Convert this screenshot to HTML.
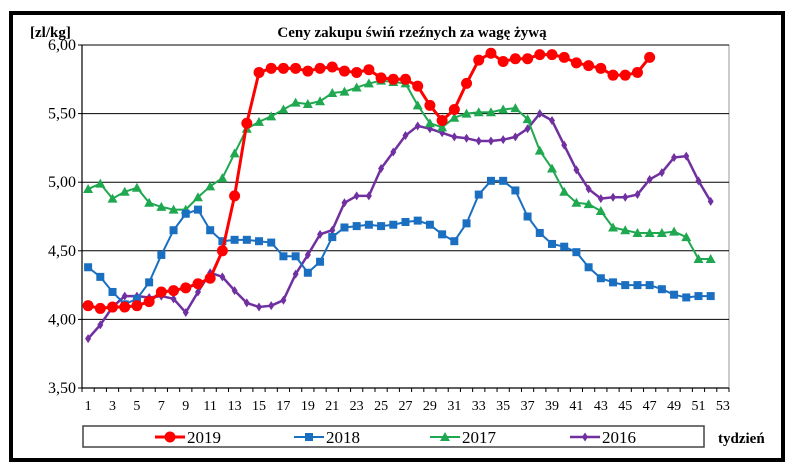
<!DOCTYPE html>
<html><head><meta charset="utf-8"><style>
body{margin:0;background:#fff;width:800px;height:467px;overflow:hidden}
svg{display:block}
</style></head><body>
<svg id="c" width="800" height="467" xmlns="http://www.w3.org/2000/svg" font-family="Liberation Serif, serif">
<rect x="0" y="0" width="800" height="467" fill="#fff"/>
<rect x="11" y="13" width="772" height="447" fill="none" stroke="#000" stroke-width="4"/>
<text x="30" y="37" font-size="15" font-weight="bold" font-family="Liberation Serif, serif">[zl/kg]</text>
<text x="412" y="37" font-size="15" font-weight="bold" text-anchor="middle" font-family="Liberation Serif, serif">Ceny zakupu świń rzeźnych  za wagę żywą</text>
<rect x="83" y="426" width="621" height="21" fill="none" stroke="#444" stroke-width="1.5"/>
<text x="718" y="443" font-size="15" font-weight="bold" font-family="Liberation Serif, serif">tydzień</text>
<g id="g" font-family="Liberation Serif, serif"></g>
</svg>
<script>
const g=document.getElementById('g');
const NS='http://www.w3.org/2000/svg';
function el(t,a,txt){const e=document.createElementNS(NS,t);for(const k in a)e.setAttribute(k,a[k]);if(txt){e.textContent=txt;e.setAttribute('font-family','Liberation Serif, serif');}g.appendChild(e);return e;}
const X0=82,X1=729,cw=(X1-X0)/53;
const Y=v=>45+(6-v)*137.2;
const X=w=>X0+(w-0.5)*cw;
el('rect',{x:X0,y:45,width:X1-X0,height:343,fill:'none',stroke:'#999','stroke-width':1});
[6,5.5,5,4.5,4].forEach(v=>el('line',{x1:X0,x2:X1,y1:Y(v),y2:Y(v),stroke:'#000','stroke-width':1}));
el('line',{x1:X0,x2:X0,y1:45,y2:388,stroke:'#000','stroke-width':1.2});
el('line',{x1:X0,x2:X1,y1:388,y2:388,stroke:'#000','stroke-width':1.2});
[6,5.5,5,4.5,4,3.5].forEach(v=>{el('line',{x1:X0-4,x2:X0,y1:Y(v),y2:Y(v),stroke:'#000'});el('text',{x:X0-6,y:Y(v)+5,'font-size':16,'text-anchor':'end'},v.toFixed(2).replace('.',','));});
for(let i=0;i<=53;i++){const x=X0+i*cw;el('line',{x1:x,x2:x,y1:388,y2:392,stroke:'#000'});}
for(let w=1;w<=53;w+=2)el('text',{x:X(w),y:410,'font-size':14,'text-anchor':'middle'},String(w));
const d={
r:[4.10,4.08,4.09,4.09,4.10,4.13,4.20,4.21,4.23,4.26,4.30,4.50,4.90,5.43,5.80,5.83,5.83,5.83,5.81,5.83,5.84,5.81,5.80,5.82,5.76,5.75,5.75,5.70,5.56,5.45,5.53,5.72,5.89,5.94,5.88,5.90,5.90,5.93,5.93,5.91,5.87,5.85,5.83,5.78,5.78,5.80,5.91],
b:[4.38,4.31,4.20,4.11,4.15,4.27,4.47,4.65,4.77,4.80,4.65,4.57,4.58,4.58,4.57,4.56,4.46,4.46,4.34,4.42,4.60,4.67,4.68,4.69,4.68,4.69,4.71,4.72,4.69,4.62,4.57,4.70,4.91,5.01,5.01,4.94,4.75,4.63,4.55,4.53,4.49,4.38,4.30,4.27,4.25,4.25,4.25,4.22,4.18,4.16,4.17,4.17],
gr:[4.95,4.99,4.88,4.93,4.96,4.85,4.82,4.80,4.80,4.89,4.97,5.03,5.21,5.39,5.44,5.48,5.53,5.58,5.57,5.59,5.65,5.66,5.69,5.72,5.74,5.73,5.72,5.56,5.43,5.40,5.47,5.50,5.51,5.51,5.53,5.54,5.46,5.23,5.10,4.93,4.85,4.84,4.79,4.67,4.65,4.63,4.63,4.63,4.64,4.60,4.44,4.44],
p:[3.86,3.96,4.09,4.17,4.17,4.16,4.17,4.15,4.05,4.20,4.34,4.31,4.21,4.12,4.09,4.10,4.14,4.33,4.47,4.62,4.65,4.85,4.90,4.90,5.10,5.22,5.34,5.41,5.39,5.36,5.33,5.32,5.30,5.30,5.31,5.33,5.39,5.50,5.45,5.27,5.09,4.95,4.88,4.89,4.89,4.91,5.02,5.07,5.18,5.19,5.01,4.86]};
function marker(t,x,y,c){
 if(t=='c')el('circle',{cx:x,cy:y,r:5.5,fill:c});
 else if(t=='s')el('rect',{x:x-4,y:y-4,width:8,height:8,fill:c});
 else if(t=='t')el('polygon',{points:`${x},${y-5} ${x-5},${y+4} ${x+5},${y+4}`,fill:c});
 else el('polygon',{points:`${x},${y-4.5} ${x+3},${y} ${x},${y+4.5} ${x-3},${y}`,fill:c});
}
const S=[['p','#7030a0','d',2.5],['gr','#1fa850','t',2],['b','#1a6fc0','s',2],['r','#ff0000','c',3]];
S.forEach(([k,c,m,w])=>{const pts=d[k].map((v,i)=>X(i+1)+','+Y(v)).join(' ');
 el('polyline',{points:pts,fill:'none',stroke:c,'stroke-width':w,'stroke-linejoin':'round'});
 d[k].forEach((v,i)=>marker(m,X(i+1),Y(v),c));});
const L=[['2019','#ff0000','c',3,155],['2018','#1a6fc0','s',2,294],['2017','#1fa850','t',2,430],['2016','#7030a0','d',2.5,570]];
L.forEach(([t,c,m,w,x])=>{el('line',{x1:x,x2:x+30,y1:437,y2:437,stroke:c,'stroke-width':w});marker(m,x+15,437,c);el('text',{x:x+32,y:443,'font-size':17},t);});
</script>
</body></html>
